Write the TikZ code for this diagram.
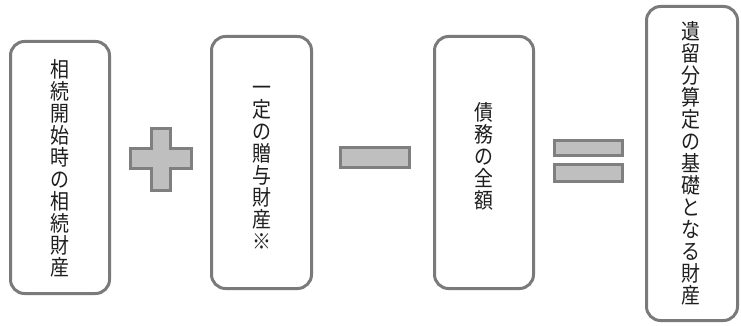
\documentclass[tikz,border=0pt]{standalone}
\usepackage{fontspec}
\newfontfamily\jpfont[FakeStretch=0.88]{Noto Sans CJK JP}
\definecolor{boxgray}{HTML}{7A7A7A}
\definecolor{opfill}{HTML}{BFBFBF}
\definecolor{opline}{HTML}{7F7F7F}
\definecolor{txt}{HTML}{1E1E1E}
\tikzset{
  termbox/.style={draw=boxgray, line width=3pt, rounded corners=14pt, inner sep=0pt, fill=white},
  vtext/.style={align=center, inner sep=0pt, text=txt, font=\jpfont\fontsize{21.5}{22}\selectfont},
  opshape/.style={draw=opline, fill=opfill, line width=3pt}
}
\begin{document}
\begin{tikzpicture}[x=1pt, y=-1pt]
\useasboundingbox (0,0) rectangle (741,326);
% boxes
\node[termbox, minimum width=99pt, minimum height=252pt] (b1) at (60,167.5) {};
\node[termbox, minimum width=100pt, minimum height=252pt] (b2) at (261.5,162.5) {};
\node[termbox, minimum width=99pt, minimum height=252pt] (b3) at (484,162.5) {};
\node[termbox, minimum width=91pt, minimum height=314pt] (b4) at (692,163.5) {};
% texts
\node[vtext] (t1) at (60,168) {相\\続\\開\\始\\時\\の\\相\\続\\財\\産};
\node[vtext] (t2) at (261.5,167.5) {一\\定\\の\\贈\\与\\財\\産\\※};
\node[vtext] (t3) at (484,156.5) {債\\務\\の\\全\\額};
\node[vtext] (t4) at (691,163.5) {遺\\留\\分\\算\\定\\の\\基\\礎\\と\\な\\る\\財\\産};
% operators
\draw[opshape] (151.5,128.5) -- (170.5,128.5) -- (170.5,148.5) -- (191.5,148.5) -- (191.5,168.5)
  -- (170.5,168.5) -- (170.5,190.5) -- (151.5,190.5) -- (151.5,168.5) -- (130.5,168.5)
  -- (130.5,148.5) -- (151.5,148.5) -- cycle;
\draw[opshape] (340.5,147.5) rectangle (409.5,167.5);
\draw[opshape] (554.5,140.5) rectangle (622.5,155.5);
\draw[opshape] (554.5,164.5) rectangle (622.5,181.5);
\end{tikzpicture}
\end{document}
